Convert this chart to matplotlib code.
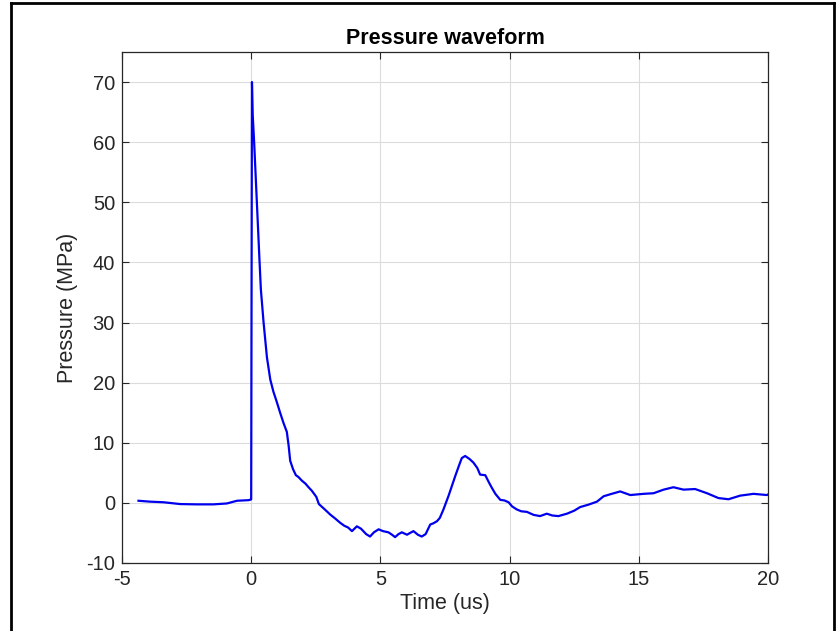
import matplotlib
matplotlib.use('Agg')
import matplotlib.pyplot as plt
from matplotlib.lines import Line2D

# time (us) and pressure (MPa)
t = [-4.36, -3.91, -3.39, -2.75, -2.1, -1.46, -0.94, -0.55, -0.1, -0.01,
     0.0, 0.03, 0.06, 0.12, 0.22, 0.32, 0.375, 0.48, 0.61, 0.74,
     0.86, 0.99, 1.12, 1.25, 1.38, 1.45, 1.51, 1.62, 1.73, 1.83,
     1.96, 2.1, 2.22, 2.35, 2.52, 2.62, 2.8, 2.95, 3.06, 3.25,
     3.44, 3.6, 3.75, 3.9, 4.09, 4.25, 4.45, 4.6, 4.75, 4.93,
     5.1, 5.31, 5.45, 5.57, 5.7, 5.83, 6.03, 6.15, 6.28, 6.45,
     6.6, 6.75, 6.93, 7.05, 7.19, 7.3, 7.44, 7.64, 7.9, 8.05,
     8.15, 8.28, 8.45, 8.6, 8.75, 8.86, 9.06, 9.2, 9.32, 9.45,
     9.64, 9.8, 9.96, 10.1, 10.28, 10.45, 10.67, 10.93, 11.18, 11.44,
     11.65, 11.89, 12.22, 12.5, 12.73, 13.05, 13.38, 13.64, 13.95, 14.28,
     14.67, 15.18, 15.57, 15.96, 16.34, 16.73, 17.18, 17.64, 18.08, 18.47,
     18.92, 19.44, 19.96, 20.0]
p = [0.35, 0.2, 0.1, -0.2, -0.25, -0.25, -0.1, 0.35, 0.45, 0.55,
     0.6, 70.0, 64.5, 59.5, 50.0, 40.5, 35.5, 30.0, 24.2, 20.5,
     18.5, 16.8, 15.0, 13.3, 11.8, 9.5, 7.0, 5.6, 4.6, 4.3,
     3.7, 3.2, 2.6, 2.0, 1.0, -0.2, -0.9, -1.5, -1.95, -2.6,
     -3.3, -3.8, -4.1, -4.7, -3.9, -4.3, -5.2, -5.6, -4.9, -4.4,
     -4.7, -4.9, -5.3, -5.7, -5.2, -4.9, -5.3, -5.0, -4.7, -5.3,
     -5.6, -5.2, -3.6, -3.4, -3.05, -2.5, -1.1, 1.2, 4.5, 6.3,
     7.45, 7.8, 7.3, 6.7, 5.8, 4.7, 4.6, 3.4, 2.45, 1.5,
     0.5, 0.4, 0.1, -0.6, -1.1, -1.4, -1.5, -2.0, -2.2, -1.8,
     -2.1, -2.2, -1.8, -1.3, -0.7, -0.3, 0.2, 1.1, 1.5, 1.9,
     1.3, 1.5, 1.6, 2.2, 2.6, 2.2, 2.3, 1.6, 0.8, 0.6,
     1.2, 1.5, 1.3, 1.4]

xticks = [-5, 0, 5, 10, 15, 20]
yticks = [-10, 0, 10, 20, 30, 40, 50, 60, 70]

plt.rcParams['font.family'] = ['Liberation Sans', 'DejaVu Sans']
plt.rcParams['axes.unicode_minus'] = False
fig = plt.figure(figsize=(8.4, 6.31), dpi=100)
ax = fig.add_axes([0.1452, 0.1078, 0.7691, 0.8098])

ax.plot(t, p, color='#0000ee', linewidth=1.6)

dark = '#262626'
ax.set_xlim(-5, 20)
ax.set_ylim(-10, 75)
ax.set_xticks(xticks)
ax.set_yticks(yticks)
ax.grid(True, color='#dcdcdc', linewidth=0.8)
ax.set_axisbelow(True)
ax.tick_params(direction='in', length=5, width=0.8, colors=dark,
               labelsize=14.5, top=True, right=True, pad=5)
for s in ax.spines.values():
    s.set_color(dark)
    s.set_linewidth(0.9)

ax.set_title('Pressure waveform', fontsize=15.5, fontweight='bold', color='black', pad=6)
ax.set_xlabel('Time (us)', fontsize=15.5, color=dark, labelpad=3)
ax.set_ylabel('Pressure (MPa)', fontsize=15.5, color=dark, labelpad=6)

# screenshot frame around the figure
fig.add_artist(Line2D([11/840, 11/840], [0, 1 - 3/631], transform=fig.transFigure, color='black', linewidth=2))
fig.add_artist(Line2D([11/840, 834/840], [1 - 3/631, 1 - 3/631], transform=fig.transFigure, color='black', linewidth=2))
fig.add_artist(Line2D([834/840, 834/840], [0, 1 - 3/631], transform=fig.transFigure, color='black', linewidth=2))

fig.savefig('out.png', dpi=100)
